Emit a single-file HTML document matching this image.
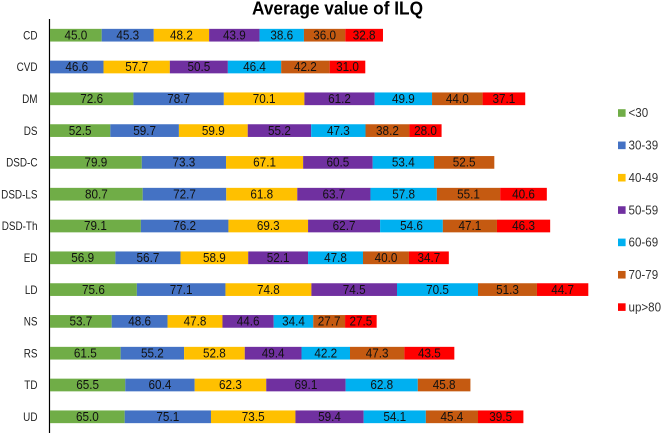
<!DOCTYPE html>
<html>
<head>
<meta charset="utf-8">
<style>
html,body{margin:0;padding:0;background:#fff;width:661px;height:433px;overflow:hidden}
svg{display:block}
text{font-family:"Liberation Sans",sans-serif}
</style>
</head>
<body>
<svg id="chart" width="661" height="433" viewBox="0 0 661 433" xmlns="http://www.w3.org/2000/svg">
<text x="337.5" y="14.5" text-anchor="middle" font-size="18.5" font-weight="bold" fill="#000" textLength="171" lengthAdjust="spacingAndGlyphs">Average value of ILQ</text>
<line x1="49.5" y1="19" x2="49.5" y2="433" stroke="#000" stroke-width="1.2"></line>
<g id="bars"></g>
<g id="legend"></g>
</svg>
<script>
var categories = ["CD","CVD","DM","DS","DSD-C","DSD-LS","DSD-Th","ED","LD","NS","RS","TD","UD"];
var seriesNames = ["<30","30-39","40-49","50-59","60-69","70-79","up>80"];
var under30 = [45.0,null,72.6,52.5,79.9,80.7,79.1,56.9,75.6,53.7,61.5,65.5,65.0];
var from30to39 = [45.3,46.6,78.7,59.7,73.3,72.7,76.2,56.7,77.1,48.6,55.2,60.4,75.1];
var from40to49 = [48.2,57.7,70.1,59.9,67.1,61.8,69.3,58.9,74.8,47.8,52.8,62.3,73.5];
var from50to59 = [43.9,50.5,61.2,55.2,60.5,63.7,62.7,52.1,74.5,44.6,49.4,69.1,59.4];
var from60to69 = [38.6,46.4,49.9,47.3,53.4,57.8,54.6,47.8,70.5,34.4,42.2,62.8,54.1];
var from70to79 = [36.0,42.2,44.0,38.2,52.5,55.1,47.1,40.0,51.3,27.7,47.3,45.8,45.4];
var over80 = [32.8,31.0,37.1,28.0,null,40.6,46.3,34.7,44.7,27.5,43.5,null,39.5];
var seriesValues = [under30,from30to39,from40to49,from50to59,from60to69,from70to79,over80];
var colors = ["#70AD47","#4472C4","#FFC000","#7030A0","#00B0F0","#C55A11","#FF0000"];

var NS = "http://www.w3.org/2000/svg";
function xScale(v){ return 50 + v * 1.149; }
function yBand(i){ return 35.2 + i * 31.8; }
function legendY(i){ return 113 + i * 32.35; }
var BAR_H = 12.7;

function squeeze(el, factor){
  el.setAttribute("textLength", el.getComputedTextLength() * factor);
  el.setAttribute("lengthAdjust", "spacingAndGlyphs");
}

var barsG = document.getElementById("bars");
var legendG = document.getElementById("legend");

categories.forEach(function(cat, i){
  var cy = yBand(i);
  var label = document.createElementNS(NS, "text");
  
  
  label.setAttribute("x", 37.5);
  label.setAttribute("y", cy + 4.2);
  label.setAttribute("text-anchor", "end");
  label.setAttribute("font-size", "11.8");
  label.setAttribute("fill", "#222");
  label.textContent = cat;
  barsG.appendChild(label);
  squeeze(label, 0.84);

  var cum = 0;
  seriesValues.forEach(function(series, s){
    var v = series[i];
    if (v === null || v === undefined) return;
    var x0 = xScale(cum), x1 = xScale(cum + v);
    var r = document.createElementNS(NS, "rect");
    
    
    r.setAttribute("x", x0);
    r.setAttribute("y", cy - BAR_H / 2);
    r.setAttribute("width", x1 - x0);
    r.setAttribute("height", BAR_H);
    r.setAttribute("fill", colors[s]);
    barsG.appendChild(r);
    cum += v;
  });

  cum = 0;
  seriesValues.forEach(function(series, s){
    var v = series[i];
    if (v === null || v === undefined) return;
    var x0 = xScale(cum), x1 = xScale(cum + v);
    var t = document.createElementNS(NS, "text");
    
    
    t.setAttribute("x", (x0 + x1) / 2);
    t.setAttribute("y", cy + 4.2);
    t.setAttribute("text-anchor", "middle");
    t.setAttribute("font-size", "12.6");
    t.setAttribute("fill", "#111");
    t.textContent = v.toFixed(1);
    barsG.appendChild(t);
    squeeze(t, 0.93);
    cum += v;
  });
});

seriesNames.forEach(function(name, i){
  var cy = legendY(i);
  var sw = document.createElementNS(NS, "rect");
  
  
  sw.setAttribute("x", 618);
  sw.setAttribute("y", cy - 3.8);
  sw.setAttribute("width", 7.6);
  sw.setAttribute("height", 7.6);
  sw.setAttribute("fill", colors[i]);
  legendG.appendChild(sw);

  var lt = document.createElementNS(NS, "text");
  
  
  lt.setAttribute("x", 628.5);
  lt.setAttribute("y", cy + 4.2);
  lt.setAttribute("font-size", "12.6");
  lt.setAttribute("fill", "#333");
  lt.textContent = name;
  legendG.appendChild(lt);
  squeeze(lt, 0.92);
});
</script>
</body>
</html>
